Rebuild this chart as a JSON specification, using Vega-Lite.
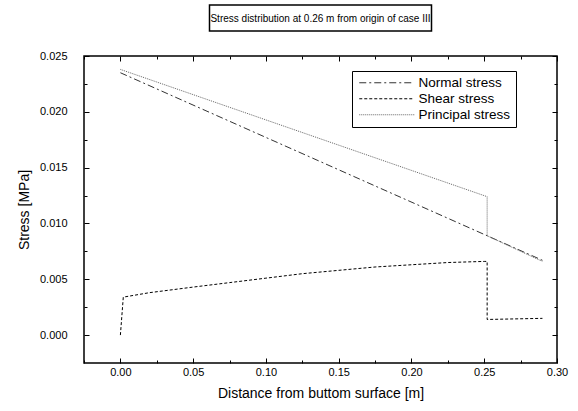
{
  "$schema": "https://vega.github.io/schema/vega-lite/v6.json",
  "padding": {"left": 16, "top": 4, "right": 5, "bottom": 5},
  "background": "white",
  "bounds": "flush",
  "center": true,
  "spacing": 25,
  "config": {
    "font": "Liberation Sans",
    "view": {"stroke": "black", "strokeWidth": 1.5}
  },
  "datasets": {
    "stress": [
      {"series": "Normal stress", "order": 1, "x": 0.0, "y": 0.0235},
      {"series": "Normal stress", "order": 2, "x": 0.252, "y": 0.0089},
      {"series": "Normal stress", "order": 3, "x": 0.29, "y": 0.0067},
      {"series": "Shear stress", "order": 1, "x": 0.0, "y": 0.0},
      {"series": "Shear stress", "order": 2, "x": 0.002, "y": 0.0034},
      {"series": "Shear stress", "order": 3, "x": 0.02, "y": 0.0038},
      {"series": "Shear stress", "order": 4, "x": 0.05, "y": 0.0043},
      {"series": "Shear stress", "order": 5, "x": 0.075, "y": 0.0047},
      {"series": "Shear stress", "order": 6, "x": 0.1, "y": 0.0051},
      {"series": "Shear stress", "order": 7, "x": 0.125, "y": 0.0055},
      {"series": "Shear stress", "order": 8, "x": 0.15, "y": 0.0058},
      {"series": "Shear stress", "order": 9, "x": 0.175, "y": 0.0061},
      {"series": "Shear stress", "order": 10, "x": 0.2, "y": 0.0063},
      {"series": "Shear stress", "order": 11, "x": 0.225, "y": 0.0065},
      {"series": "Shear stress", "order": 12, "x": 0.25, "y": 0.0066},
      {"series": "Shear stress", "order": 13, "x": 0.252, "y": 0.0066},
      {"series": "Shear stress", "order": 14, "x": 0.252, "y": 0.0014},
      {"series": "Shear stress", "order": 15, "x": 0.29, "y": 0.0015},
      {"series": "Principal stress", "order": 1, "x": 0.0, "y": 0.0238},
      {"series": "Principal stress", "order": 2, "x": 0.252, "y": 0.0124},
      {"series": "Principal stress", "order": 3, "x": 0.252, "y": 0.0089},
      {"series": "Principal stress", "order": 4, "x": 0.29, "y": 0.0066}
    ]
  },
  "vconcat": [
    {
      "width": 222,
      "height": 26,
      "view": {"stroke": "black", "strokeWidth": 1.5, "fill": "white"},
      "data": {"values": [{"t": "Stress distribution at 0.26 m from origin of case III"}]},
      "mark": {"type": "text", "fontSize": 10, "font": "Liberation Sans", "color": "black", "dy": 1},
      "encoding": {"text": {"field": "t"}}
    },
    {
      "width": 473,
      "height": 307,
      "data": {"name": "stress"},
      "resolve": {"axis": {"x": "independent", "y": "independent"}},
      "layer": [
        {
          "mark": {"type": "line", "strokeWidth": 1, "clip": true},
          "encoding": {
            "x": {
              "field": "x", "type": "quantitative",
              "scale": {"domain": [-0.025, 0.3], "nice": false, "zero": false},
              "axis": {
                "orient": "bottom",
                "title": "Distance from buttom surface [m]",
                "titleFontSize": 14, "titleFontWeight": "normal", "titlePadding": 9, "titleColor": "black",
                "values": [-0.025, 0, 0.025, 0.05, 0.075, 0.1, 0.125, 0.15, 0.175, 0.2, 0.225, 0.25, 0.275, 0.3],
                "labelExpr": "round(datum.value*1000) % 50 == 0 && datum.value >= 0 ? format(datum.value, '.2f') : ''",
                "labelFontSize": 11, "labelColor": "black", "labelPadding": 8,
                "tickColor": "black",
                "tickSize": {"condition": {"test": "round(datum.value*1000) % 50 == 0", "value": -5}, "value": -3},
                "domain": false, "grid": false, "labelFlush": false
              }
            },
            "y": {
              "field": "y", "type": "quantitative",
              "scale": {"domain": [-0.0025, 0.025], "nice": false, "zero": false},
              "axis": {
                "orient": "left",
                "title": "Stress [MPa]",
                "titleFontSize": 14, "titleFontWeight": "normal", "titlePadding": 8, "titleColor": "black",
                "values": [0, 0.0025, 0.005, 0.0075, 0.01, 0.0125, 0.015, 0.0175, 0.02, 0.0225, 0.025],
                "labelExpr": "round(datum.value*10000) % 50 == 0 ? format(datum.value, '.3f') : ''",
                "labelFontSize": 11, "labelColor": "black", "labelPadding": 22,
                "tickColor": "black",
                "tickSize": {"condition": {"test": "round(datum.value*10000) % 50 == 0", "value": -5}, "value": -3},
                "domain": false, "grid": false, "labelFlush": false
              }
            },
            "order": {"field": "order", "type": "quantitative"},
            "color": {
              "field": "series", "type": "nominal",
              "scale": {"domain": ["Normal stress", "Shear stress", "Principal stress"], "range": ["#333333", "#000000", "#666666"]},
              "legend": {
                "orient": "none", "legendX": 268, "legendY": 66, "title": null,
                "strokeColor": "black", "fillColor": "white", "padding": 5,
                "symbolType": "M-5.5,0H5.5", "symbolSize": 100, "symbolStrokeWidth": 1, "symbolOffset": 23,
                "labelFontSize": 13.5, "labelColor": "black", "labelOffset": 25, "rowPadding": 1,
                "labelFont": "Liberation Sans",
                "labelExpr": "datum.label + '\u00a0\u00a0\u00a0\u00a0\u00a0\u00a0\u00a0'"
              }
            },
            "strokeDash": {
              "field": "series", "type": "nominal",
              "scale": {"domain": ["Normal stress", "Shear stress", "Principal stress"], "range": [[7, 3, 2, 3], [3, 2], [1, 1]]},
              "legend": {
                "orient": "none", "legendX": 268, "legendY": 66, "title": null,
                "strokeColor": "black", "fillColor": "white", "padding": 5,
                "symbolType": "M-5.5,0H5.5", "symbolSize": 100, "symbolStrokeWidth": 1, "symbolOffset": 23,
                "labelFontSize": 13.5, "labelColor": "black", "labelOffset": 25, "rowPadding": 1,
                "labelFont": "Liberation Sans",
                "labelExpr": "datum.label + '\u00a0\u00a0\u00a0\u00a0\u00a0\u00a0\u00a0'"
              }
            }
          }
        },
        {
          "mark": {"type": "line", "opacity": 0},
          "encoding": {
            "x": {
              "field": "x", "type": "quantitative",
              "axis": {
                "orient": "top", "title": null, "labels": false, "domain": false, "grid": false,
                "values": [-0.025, 0, 0.025, 0.05, 0.075, 0.1, 0.125, 0.15, 0.175, 0.2, 0.225, 0.25, 0.275, 0.3],
                "tickColor": "black",
                "tickSize": {"condition": {"test": "round(datum.value*1000) % 50 == 0", "value": -5}, "value": -3}
              }
            },
            "y": {
              "field": "y", "type": "quantitative",
              "axis": {
                "orient": "right", "title": null, "labels": false, "domain": false, "grid": false,
                "values": [0, 0.0025, 0.005, 0.0075, 0.01, 0.0125, 0.015, 0.0175, 0.02, 0.0225, 0.025],
                "tickColor": "black",
                "tickSize": {"condition": {"test": "round(datum.value*10000) % 50 == 0", "value": -5}, "value": -3}
              }
            },
            "detail": {"field": "series"},
            "order": {"field": "order", "type": "quantitative"}
          }
        }
      ]
    }
  ]
}
